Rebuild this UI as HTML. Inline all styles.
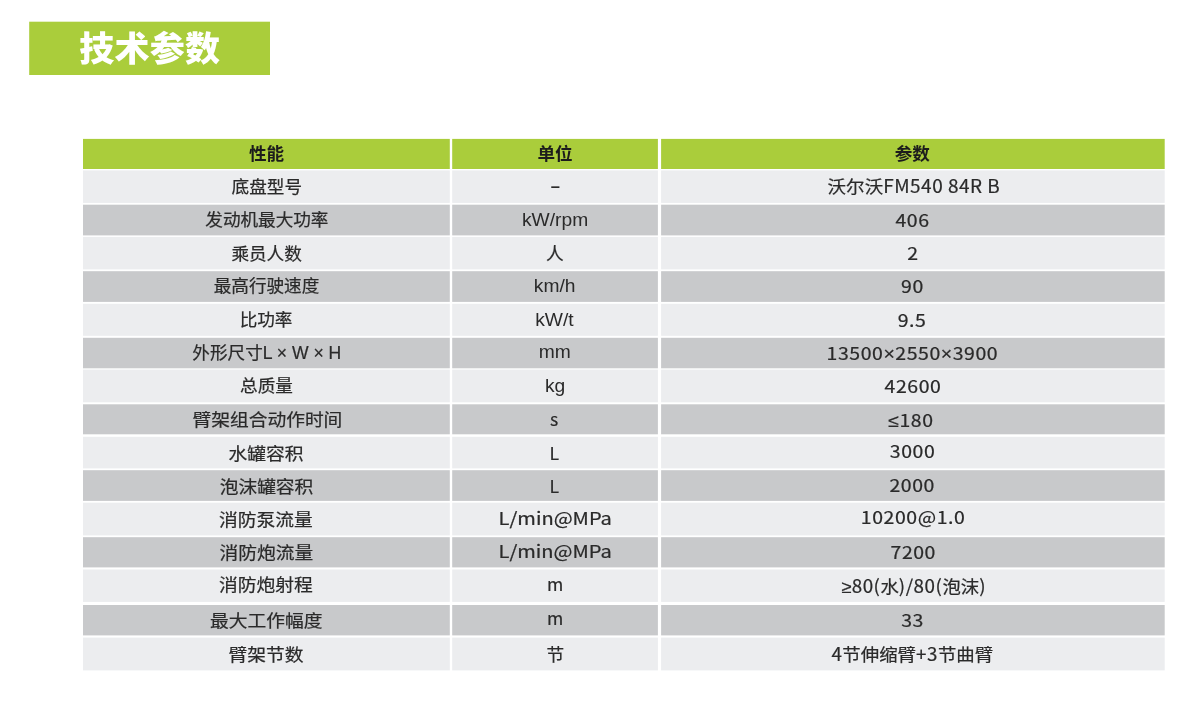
<!DOCTYPE html>
<html lang="zh-CN">
<head>
<meta charset="utf-8">
<title>技术参数</title>
<style>
html,body{margin:0;padding:0;background:#fff;}
body{width:1200px;height:704px;overflow:hidden;position:relative;}
svg{position:absolute;left:0;top:0;display:block;}
text{font-family:"Noto Sans CJK SC","Liberation Sans",sans-serif;fill:#2a2a2a;white-space:pre;}
.h{font-weight:700;font-size:17.6px;fill:#1c1c1c;}
.c{font-weight:400;stroke:#2a2a2a;stroke-width:.22px;font-size:17.6px;}
.e{font-weight:400;stroke:#2a2a2a;stroke-width:.22px;font-size:17.8px;}
.a{font-family:"Liberation Sans","Noto Sans CJK SC",sans-serif;font-size:18.5px;}
.d{font-family:"Liberation Sans","Noto Sans CJK SC",sans-serif;font-size:16.5px;font-weight:700;}
.n{font-size:18.0px;letter-spacing:0.5px;}
.l{font-family:"Liberation Sans","Noto Sans CJK SC",sans-serif;}
.t{font-weight:900;font-size:34.5px;fill:#fff;}
</style>
</head>
<body>
<svg width="1200" height="704" viewBox="0 0 1200 704">
<rect x="29.2" y="21.7" width="240.8" height="53.3" fill="#aacd3b"/>
<rect x="83.0" y="138.9" width="366.8" height="30.1" fill="#aacd3b"/>
<rect x="452.2" y="138.9" width="205.7" height="30.1" fill="#aacd3b"/>
<rect x="661.1" y="138.9" width="503.6" height="30.1" fill="#aacd3b"/>
<rect x="83.0" y="170.4" width="366.8" height="32.5" fill="#ecedef"/>
<rect x="452.2" y="170.4" width="205.7" height="32.5" fill="#ecedef"/>
<rect x="661.1" y="170.4" width="503.6" height="32.5" fill="#ecedef"/>
<rect x="83.0" y="204.7" width="366.8" height="30.7" fill="#c8c9cb"/>
<rect x="452.2" y="204.7" width="205.7" height="30.7" fill="#c8c9cb"/>
<rect x="661.1" y="204.7" width="503.6" height="30.7" fill="#c8c9cb"/>
<rect x="83.0" y="236.9" width="366.8" height="32.5" fill="#ecedef"/>
<rect x="452.2" y="236.9" width="205.7" height="32.5" fill="#ecedef"/>
<rect x="661.1" y="236.9" width="503.6" height="32.5" fill="#ecedef"/>
<rect x="83.0" y="271.2" width="366.8" height="30.7" fill="#c8c9cb"/>
<rect x="452.2" y="271.2" width="205.7" height="30.7" fill="#c8c9cb"/>
<rect x="661.1" y="271.2" width="503.6" height="30.7" fill="#c8c9cb"/>
<rect x="83.0" y="303.8" width="366.8" height="32.0" fill="#ecedef"/>
<rect x="452.2" y="303.8" width="205.7" height="32.0" fill="#ecedef"/>
<rect x="661.1" y="303.8" width="503.6" height="32.0" fill="#ecedef"/>
<rect x="83.0" y="337.8" width="366.8" height="30.5" fill="#c8c9cb"/>
<rect x="452.2" y="337.8" width="205.7" height="30.5" fill="#c8c9cb"/>
<rect x="661.1" y="337.8" width="503.6" height="30.5" fill="#c8c9cb"/>
<rect x="83.0" y="369.6" width="366.8" height="32.7" fill="#ecedef"/>
<rect x="452.2" y="369.6" width="205.7" height="32.7" fill="#ecedef"/>
<rect x="661.1" y="369.6" width="503.6" height="32.7" fill="#ecedef"/>
<rect x="83.0" y="404.3" width="366.8" height="30.0" fill="#c8c9cb"/>
<rect x="452.2" y="404.3" width="205.7" height="30.0" fill="#c8c9cb"/>
<rect x="661.1" y="404.3" width="503.6" height="30.0" fill="#c8c9cb"/>
<rect x="83.0" y="436.8" width="366.8" height="31.6" fill="#ecedef"/>
<rect x="452.2" y="436.8" width="205.7" height="31.6" fill="#ecedef"/>
<rect x="661.1" y="436.8" width="503.6" height="31.6" fill="#ecedef"/>
<rect x="83.0" y="470.2" width="366.8" height="30.7" fill="#c8c9cb"/>
<rect x="452.2" y="470.2" width="205.7" height="30.7" fill="#c8c9cb"/>
<rect x="661.1" y="470.2" width="503.6" height="30.7" fill="#c8c9cb"/>
<rect x="83.0" y="502.7" width="366.8" height="32.7" fill="#ecedef"/>
<rect x="452.2" y="502.7" width="205.7" height="32.7" fill="#ecedef"/>
<rect x="661.1" y="502.7" width="503.6" height="32.7" fill="#ecedef"/>
<rect x="83.0" y="537.2" width="366.8" height="30.2" fill="#c8c9cb"/>
<rect x="452.2" y="537.2" width="205.7" height="30.2" fill="#c8c9cb"/>
<rect x="661.1" y="537.2" width="503.6" height="30.2" fill="#c8c9cb"/>
<rect x="83.0" y="569.5" width="366.8" height="32.4" fill="#ecedef"/>
<rect x="452.2" y="569.5" width="205.7" height="32.4" fill="#ecedef"/>
<rect x="661.1" y="569.5" width="503.6" height="32.4" fill="#ecedef"/>
<rect x="83.0" y="605.0" width="366.8" height="30.4" fill="#c8c9cb"/>
<rect x="452.2" y="605.0" width="205.7" height="30.4" fill="#c8c9cb"/>
<rect x="661.1" y="605.0" width="503.6" height="30.4" fill="#c8c9cb"/>
<rect x="83.0" y="637.6" width="366.8" height="32.8" fill="#ecedef"/>
<rect x="452.2" y="637.6" width="205.7" height="32.8" fill="#ecedef"/>
<rect x="661.1" y="637.6" width="503.6" height="32.8" fill="#ecedef"/>
<text class="c" x="231.60" y="193.00">底盘型号</text>
<text class="c" x="205.31" y="226.00">发动机最大功率</text>
<text class="c" x="231.39" y="260.00">乘员人数</text>
<text class="c" x="213.69" y="292.00">最高行驶速度</text>
<text class="c" x="239.66" y="326.00">比功率</text>
<text class="c" x="192.35" y="359.00">外形尺寸<tspan class="l">L × W × H</tspan></text>
<text class="c" x="240.11" y="392.00">总质量</text>
<text class="c" transform="translate(192.47 426.00) scale(1.065 1)">臂架组合动作时间</text>
<text class="c" transform="translate(228.57 460.00) scale(1.065 1)">水罐容积</text>
<text class="c" transform="translate(219.66 493.00) scale(1.065 1)">泡沫罐容积</text>
<text class="c" transform="translate(219.01 526.00) scale(1.065 1)">消防泵流量</text>
<text class="c" transform="translate(219.58 559.00) scale(1.065 1)">消防炮流量</text>
<text class="c" transform="translate(219.11 591.00) scale(1.065 1)">消防炮射程</text>
<text class="c" transform="translate(209.98 627.00) scale(1.065 1)">最大工作幅度</text>
<text class="c" transform="translate(228.52 661.00) scale(1.065 1)">臂架节数</text>
<text class="d" x="550.72" y="192.00">–</text>
<text class="a" transform="translate(521.99 226.00) scale(1.040 1)">kW/rpm</text>
<text class="c" x="546.03" y="260.00">人</text>
<text class="a" transform="translate(533.85 292.00) scale(1.040 1)">km/h</text>
<text class="a" transform="translate(535.19 326.00) scale(1.040 1)">kW/t</text>
<text class="a" transform="translate(538.81 358.00) scale(1.040 1)">mm</text>
<text class="a" transform="translate(544.93 392.00) scale(1.040 1)">kg</text>
<text class="c" x="550.11" y="426.00">s</text>
<text class="c" x="549.49" y="460.00">L</text>
<text class="c" x="549.49" y="493.00">L</text>
<text class="c" transform="translate(498.58 525.00) scale(1.140 1)">L/min@MPa</text>
<text class="c" transform="translate(498.50 558.00) scale(1.140 1)">L/min@MPa</text>
<text class="c" x="546.99" y="591.00">m</text>
<text class="c" x="546.99" y="625.00">m</text>
<text class="c" x="546.39" y="661.00">节</text>
<text class="c" transform="translate(827.59 193.00) scale(1.053 1)">沃尔沃<tspan class="n">FM540 84R B</tspan></text>
<text class="e" transform="translate(895.41 227.00) scale(1.095 1)" letter-spacing="0.50">406</text>
<text class="e" transform="translate(907.23 260.00) scale(1.095 1)" letter-spacing="0.50">2</text>
<text class="e" transform="translate(901.07 293.00) scale(1.095 1)" letter-spacing="0.50">90</text>
<text class="e" transform="translate(897.75 327.00) scale(1.095 1)" letter-spacing="0.50">9.5</text>
<text class="e" transform="translate(826.61 360.00) scale(1.095 1)" letter-spacing="0.50">13500<tspan class="l">×</tspan>2550<tspan class="l">×</tspan>3900</text>
<text class="e" transform="translate(884.61 393.00) scale(1.095 1)" letter-spacing="0.50">42600</text>
<text class="e" transform="translate(888.18 427.00) scale(1.095 1)" letter-spacing="0.50"><tspan class="l">≤</tspan>180</text>
<text class="e" transform="translate(889.85 458.00) scale(1.095 1)" letter-spacing="0.50">3000</text>
<text class="e" transform="translate(889.42 492.00) scale(1.095 1)" letter-spacing="0.50">2000</text>
<text class="e" transform="translate(860.86 524.00) scale(1.095 1)" letter-spacing="0.50">10200@1.0</text>
<text class="e" transform="translate(890.52 559.00) scale(1.095 1)" letter-spacing="0.50">7200</text>
<text class="c" transform="translate(841.57 593.00) scale(1.045 1)"><tspan class="l">≥</tspan><tspan class="n">80(</tspan>水<tspan class="n">)/80(</tspan>泡沫<tspan class="n">)</tspan></text>
<text class="e" transform="translate(901.14 627.00) scale(1.095 1)" letter-spacing="0.50">33</text>
<text class="c" transform="translate(831.40 661.00) scale(1.046 1)"><tspan class="n">4</tspan>节伸缩臂<tspan class="n">+3</tspan>节曲臂</text>
<text class="h" x="248.94" y="160.00">性能</text>
<text class="h" x="537.38" y="160.00">单位</text>
<text class="h" x="894.72" y="160.00">参数</text>
<text class="t" transform="translate(79.17 61.00) scale(1.015 1)" letter-spacing="0.30">技术参数</text>
</svg>
</body>
</html>
